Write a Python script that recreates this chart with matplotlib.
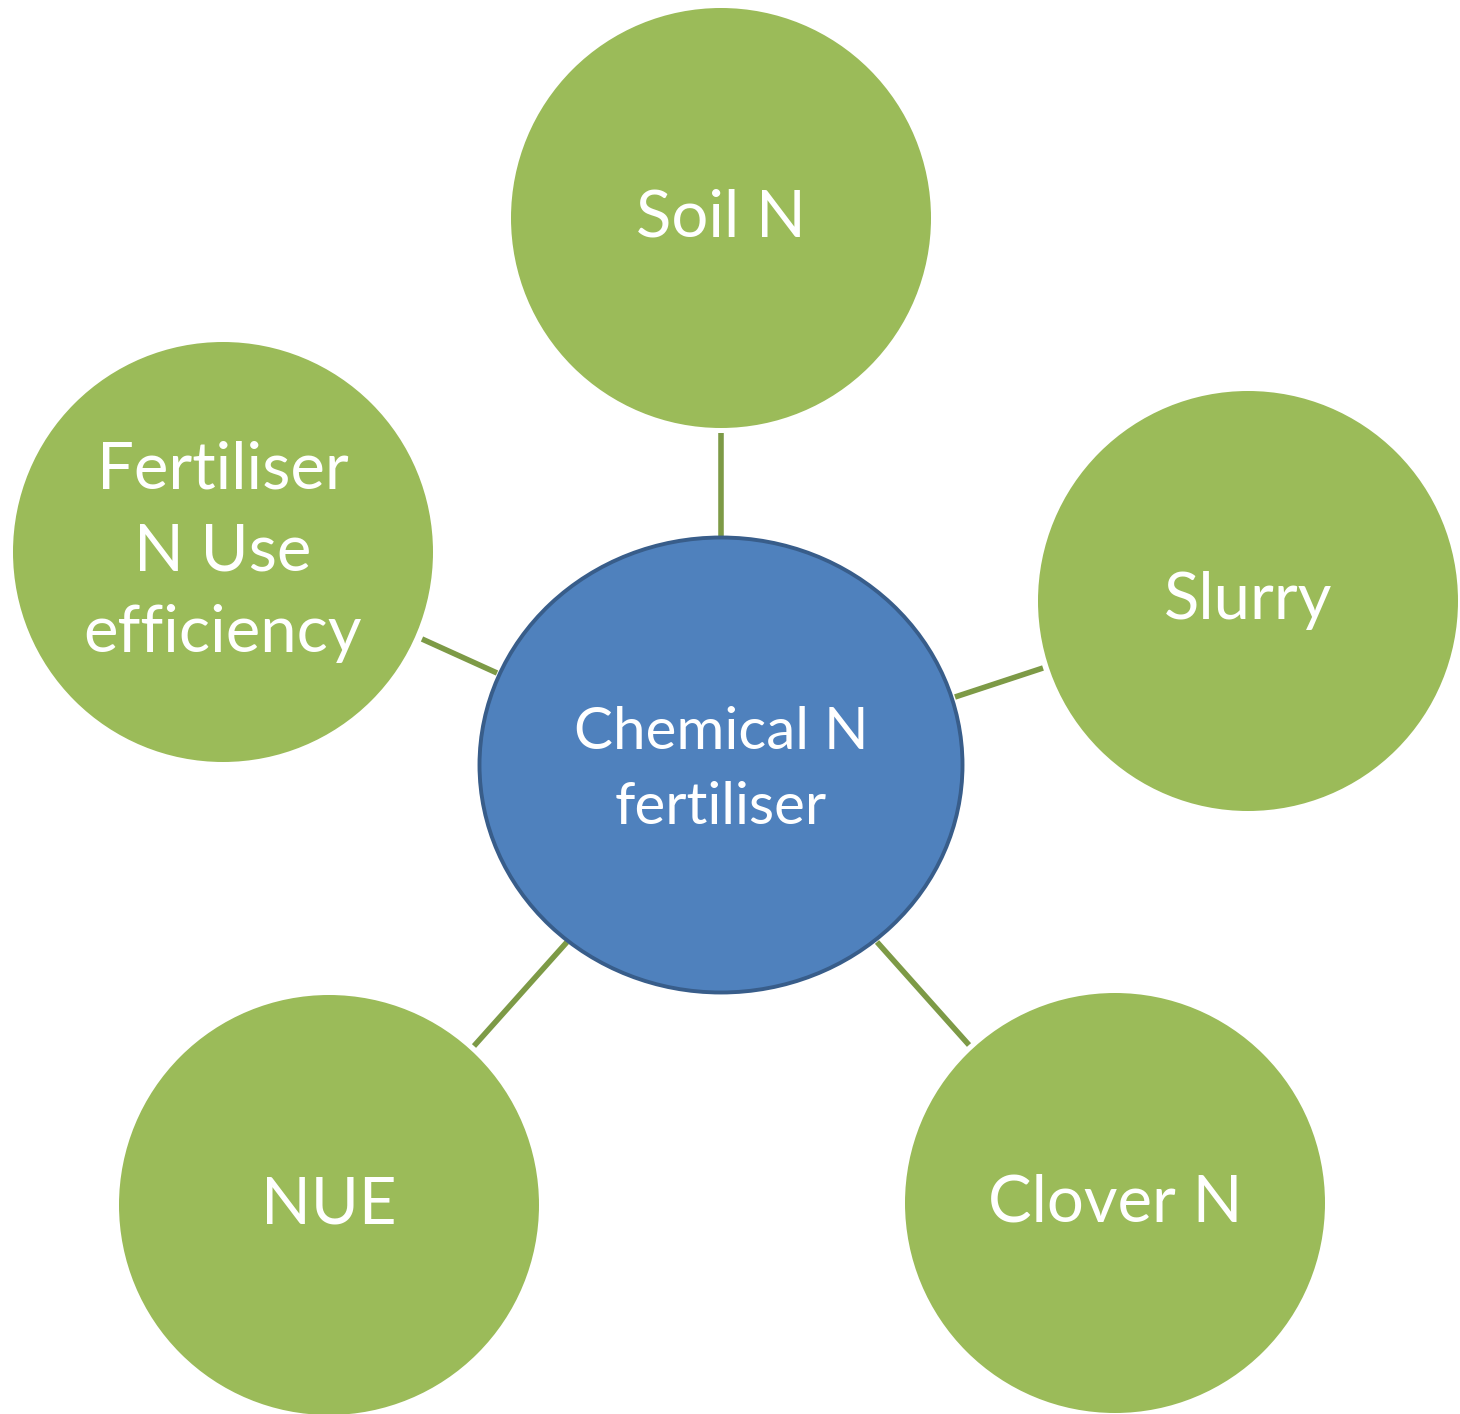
import matplotlib
matplotlib.use("Agg")
import matplotlib.pyplot as plt
from matplotlib.patches import Ellipse, Circle

plt.rcParams['font.family'] = ['Lato', 'DejaVu Sans']

# Node data
center_label = "Chemical N\nfertiliser"
center_xy = (721, 765)
center_size = (483, 455)

outer_labels = ["Soil N", "Slurry", "Clover N", "NUE", "Fertiliser\nN Use\nefficiency"]
outer_x = [721, 1248, 1115, 329, 223]
outer_y = [218, 601, 1203, 1205, 552]
outer_r = 210

# connector endpoints (outer end, inner end)
link_x0 = [721, 1043, 969, 474, 422]
link_y0 = [433, 668, 1045, 1046, 639]
link_x1 = [721, 955, 877, 567, 497]
link_y1 = [537, 697, 942, 942, 673]

W, H = 1460, 1414
fig = plt.figure(figsize=(W / 100, H / 100), dpi=100)
ax = fig.add_axes([0, 0, 1, 1])
ax.set_xlim(0, W)
ax.set_ylim(H, 0)
ax.set_aspect('equal')
ax.axis('off')

green = '#9bbb59'
line_col = '#7d9a46'
blue = '#4f81bd'
blue_edge = '#385d8a'

for x0, y0, x1, y1 in zip(link_x0, link_y0, link_x1, link_y1):
    ax.plot([x0, x1], [y0, y1], color=line_col, lw=4.0, solid_capstyle='butt', zorder=1)

for lab, x, y in zip(outer_labels, outer_x, outer_y):
    ax.add_patch(Circle((x, y), outer_r, facecolor=green, edgecolor='none', zorder=2))
    ax.text(x, y, lab, ha='center', va='center', color='white', fontsize=47,
            linespacing=1.47, zorder=3)

ax.add_patch(Ellipse(center_xy, center_size[0], center_size[1], facecolor=blue,
                     edgecolor=blue_edge, lw=2.8, zorder=2))
ax.text(center_xy[0], center_xy[1] + 5, center_label, ha='center', va='center',
        color='white', fontsize=42, linespacing=1.52, zorder=3)

fig.savefig('out.png', dpi=100)
